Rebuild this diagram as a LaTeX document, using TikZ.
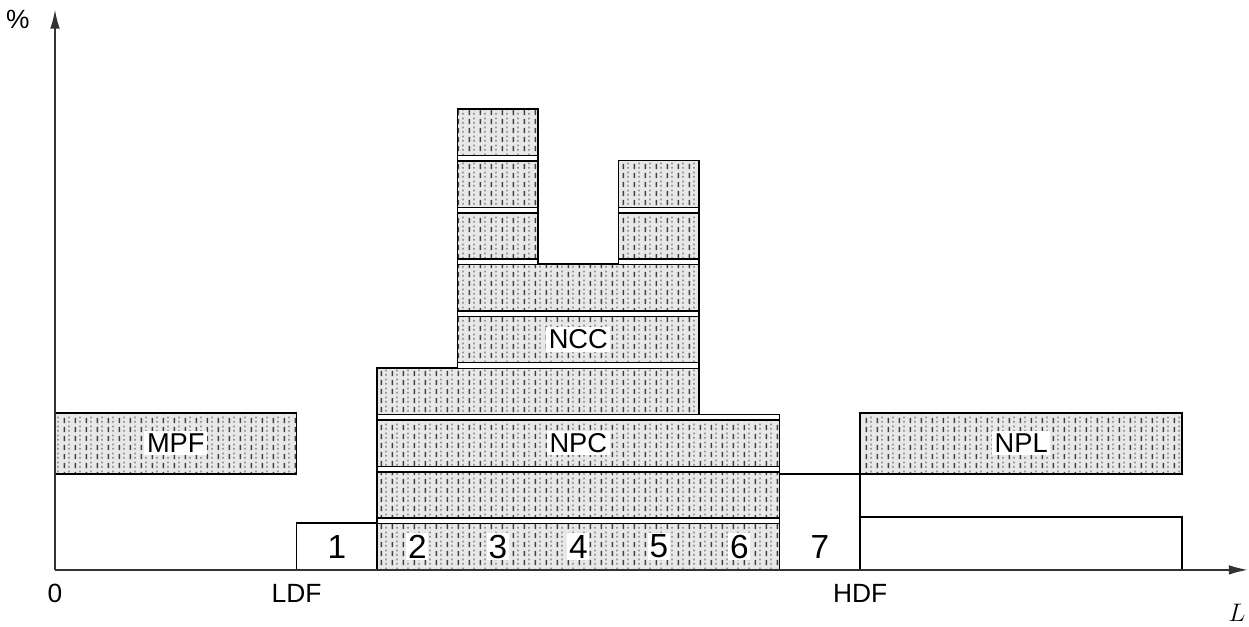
\documentclass[tikz,border=0pt]{standalone}
\usepackage{fontspec}
\setmainfont{Liberation Sans}
\usetikzlibrary{calc, positioning, arrows.meta, patterns}

% dashed-and-dotted stipple used for the shaded blocks
\pgfdeclarepatterninherentlycolored{stipple}{\pgfpointorigin}{\pgfqpoint{6pt}{5pt}}{\pgfqpoint{6pt}{5pt}}{
  \pgfsetfillcolor{black!75}
  \pgfpathrectangle{\pgfqpoint{0.4pt}{0.5pt}}{\pgfqpoint{0.85pt}{3.0pt}}
  \pgfusepath{fill}
  \pgfsetfillcolor{black!40}
  \pgfpathrectangle{\pgfqpoint{3.1pt}{0.8pt}}{\pgfqpoint{0.9pt}{1.0pt}}
  \pgfpathrectangle{\pgfqpoint{3.1pt}{3.3pt}}{\pgfqpoint{0.9pt}{1.0pt}}
  \pgfusepath{fill}
}

\begin{document}
\begin{tikzpicture}[x=1.61cm, y=1.036cm]
    \tikzset{
      axis/.style={
        draw, line width=1.1pt, draw=black!80,
        -{Latex[length=11pt, width=5.5pt]},
      },
      shaded/.style={
        draw, line width=0.9pt,
        preaction={fill=black!9}, pattern=stipple,
      },
      plain/.style={
        draw, line width=0.9pt,
      },
      band/.style={
        draw, line width=0.8pt, fill=white,
      },
      tag/.style={
        fill=white, inner sep=1.5pt, font=\fontsize{15.5}{18}\selectfont,
      },
      digit/.style={
        font=\fontsize{19}{22}\selectfont,
      },
      tick/.style={
        font=\fontsize{15}{18}\selectfont,
      },
    }
    \useasboundingbox (-0.683,-1.10) rectangle (14.83,11.0);

    \coordinate (o) at (0,0);

    % MPF and NPL blocks
    \draw[shaded] (0,1.85) rectangle (3,3.03);
    \node[tag] (mpf) at (1.5,2.44) {MPF};
    \draw[shaded] (10,1.85) rectangle (14,3.03);
    \node[tag] (npl) at (12,2.44) {NPL};

    % open boxes 1 and 7, and the one under NPL
    \draw[plain] (3,0) -- (3,0.9) -- (4,0.9);
    \draw[plain] (9,1.85) -- (10,1.85) -- (10,0);
    \draw[plain] (10,1.02) -- (14,1.02) -- (14,0);

    % NPC / NCC stack
    \draw[shaded] (4,0) -- (4,3.9) -- (5,3.9) -- (5,8.9) -- (6,8.9) -- (6,5.9)
      -- (7,5.9) -- (7,7.9) -- (8,7.9) -- (8,3.0) -- (9,3.0) -- (9,0) -- cycle;

    \draw[band] (4,0.89) rectangle (9,1.0);
    \draw[band] (4,1.89) rectangle (9,2.0);
    \draw[band] (4,2.89) rectangle (9,3.0);
    \draw[band] (5,3.89) rectangle (8,4.0);
    \draw[band] (5,4.89) rectangle (8,5.0);
    \draw[band] (5,5.89) rectangle (6,6.0);
    \draw[band] (7,5.89) rectangle (8,6.0);
    \draw[band] (5,6.89) rectangle (6,7.0);
    \draw[band] (7,6.89) rectangle (8,7.0);
    \draw[band] (5,7.89) rectangle (6,8.0);

    \node[tag] (npc) at (6.5,2.45) {NPC};
    \node[tag] (ncc) at (6.5,4.45) {NCC};

    % numbered boxes
    \node[digit] (d1) at (3.5,0.45) {1};
    \node[digit, fill=white, inner sep=1pt] (d2) at (4.5,0.45) {2};
    \node[digit, fill=white, inner sep=1pt] (d3) at (5.5,0.45) {3};
    \node[digit, fill=white, inner sep=1pt] (d4) at (6.5,0.45) {4};
    \node[digit, fill=white, inner sep=1pt] (d5) at (7.5,0.45) {5};
    \node[digit, fill=white, inner sep=1pt] (d6) at (8.5,0.45) {6};
    \node[digit] (d7) at (9.5,0.45) {7};

    % axes
    \coordinate (ytop) at (0,10.82);
    \coordinate (xend) at (14.82,0);
    \draw[axis] (o) -- (ytop);
    \draw[axis] (o) -- (xend);

    \node[tick] (pct) at (-0.46,10.62) {\%};
    \node[tick] (zero) at (0,-0.45) {0};
    \node[tick] (ldf) at (3,-0.45) {LDF};
    \node[tick] (hdf) at (10,-0.45) {HDF};
    \node[tick] (len) at (14.68,-0.82) {$L$};
  \end{tikzpicture}
\end{document}
